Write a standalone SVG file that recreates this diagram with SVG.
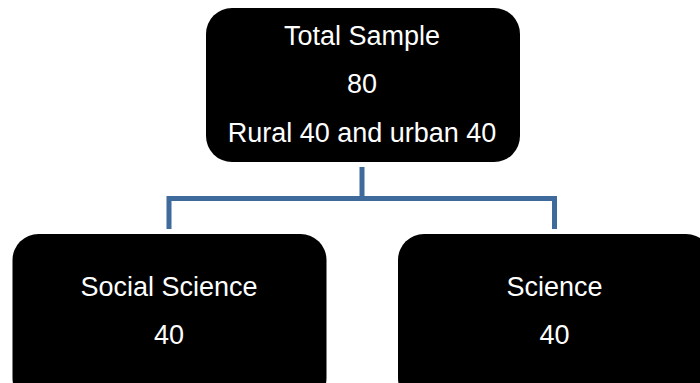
<svg xmlns="http://www.w3.org/2000/svg" width="700" height="383" viewBox="0 0 700 383">
<style>
.box{fill:#000;}
.t{fill:#fff;font-family:"Liberation Sans",Arial,sans-serif;font-size:27px;text-anchor:middle;}
.conn{fill:none;stroke:#3f6a9c;stroke-width:5;stroke-linejoin:miter;}
</style>
<rect width="700" height="383" fill="#fff"/>
<g id="connectors">
<path class="conn" d="M362 167 V198.5"/>
<path class="conn" d="M169 229 V198.5 H554.5 V229"/>
</g>
<g id="total">
<rect class="box" x="206" y="8" width="314" height="154" rx="26"/>
<text class="t" x="362" y="45">Total Sample</text>
<text class="t" x="362" y="93">80</text>
<text class="t" x="362" y="142">Rural 40 and urban 40</text>
</g>
<g id="social">
<rect class="box" x="12.5" y="234" width="314" height="170" rx="26"/>
<text class="t" x="169" y="296">Social Science</text>
<text class="t" x="169" y="344">40</text>
</g>
<g id="science">
<rect class="box" x="398" y="234" width="314" height="170" rx="26"/>
<text class="t" x="554.5" y="296">Science</text>
<text class="t" x="554.5" y="344">40</text>
</g>
</svg>
